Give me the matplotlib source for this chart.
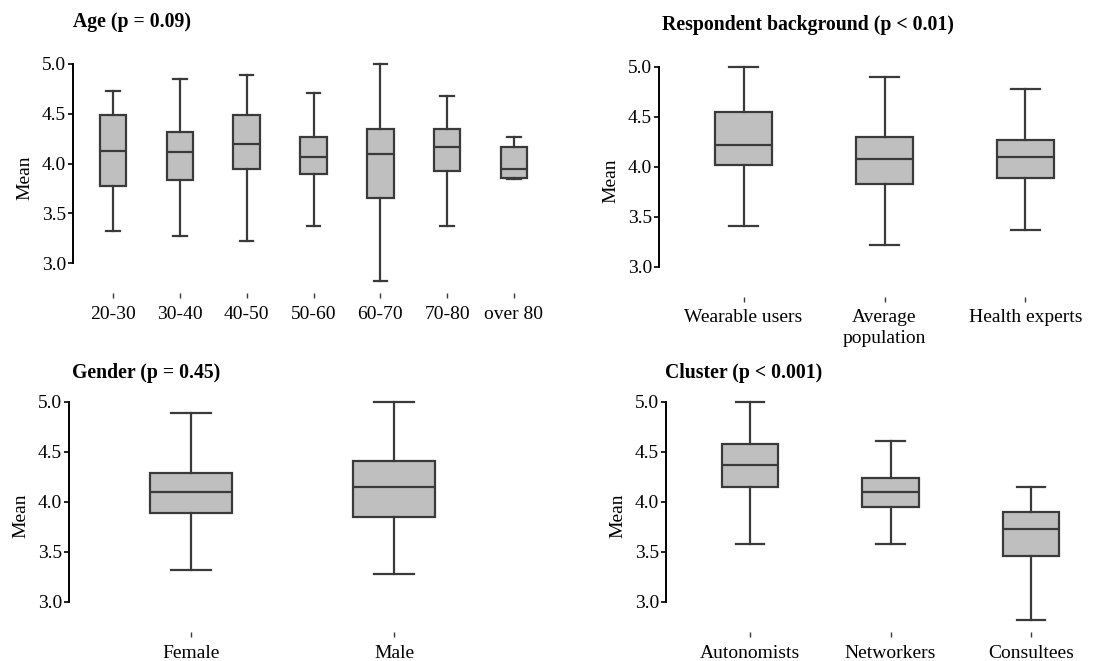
import matplotlib.pyplot as plt

plt.rcParams['font.family'] = ['Liberation Serif', 'DejaVu Serif']

# Age
age_labels = ['20-30', '30-40', '40-50', '50-60', '60-70', '70-80', 'over 80']
age_lo = [3.32, 3.27, 3.22, 3.37, 2.82, 3.37, 3.84]
age_q1 = [3.77, 3.83, 3.95, 3.90, 3.65, 3.93, 3.85]
age_med = [4.13, 4.12, 4.20, 4.07, 4.10, 4.17, 3.95]
age_q3 = [4.49, 4.32, 4.49, 4.27, 4.35, 4.35, 4.17]
age_hi = [4.73, 4.85, 4.89, 4.71, 5.00, 4.68, 4.27]

# Respondent background
bg_labels = ['Wearable users', 'Average\npopulation', 'Health experts']
bg_lo = [3.41, 3.22, 3.37]
bg_q1 = [4.02, 3.83, 3.89]
bg_med = [4.22, 4.08, 4.10]
bg_q3 = [4.55, 4.30, 4.27]
bg_hi = [5.00, 4.90, 4.78]

# Gender
gen_labels = ['Female', 'Male']
gen_lo = [3.32, 3.28]
gen_q1 = [3.89, 3.85]
gen_med = [4.10, 4.15]
gen_q3 = [4.29, 4.41]
gen_hi = [4.89, 5.00]

# Cluster
cl_labels = ['Autonomists', 'Networkers', 'Consultees']
cl_lo = [3.58, 3.58, 2.82]
cl_q1 = [4.15, 3.95, 3.46]
cl_med = [4.37, 4.10, 3.73]
cl_q3 = [4.58, 4.24, 3.90]
cl_hi = [5.00, 4.61, 4.15]

W, H = 1117, 661
edge = '#3a3a3a'
fig = plt.figure(figsize=(W / 100, H / 100), dpi=100)


def panel(px_left, px_right, px_top, px_bottom, labels, lo, q1, med, q3, hi, title, tx, ty):
    ax = fig.add_axes([px_left / W, 1 - px_bottom / H, (px_right - px_left) / W, (px_bottom - px_top) / H])
    stats = [dict(label=l, whislo=a, q1=b, med=c, q3=d, whishi=e, fliers=[])
             for l, a, b, c, d, e in zip(labels, lo, q1, med, q3, hi)]
    lw = 1.6
    ax.bxp(stats, positions=range(len(labels)), widths=0.4, capwidths=0.2,
           patch_artist=True, showfliers=False,
           boxprops=dict(facecolor='#bfbfbf', edgecolor=edge, linewidth=lw),
           medianprops=dict(color=edge, linewidth=lw),
           whiskerprops=dict(color=edge, linewidth=lw),
           capprops=dict(color=edge, linewidth=lw))
    n = len(labels)
    ax.set_xlim(-0.6, n - 0.4)
    ax.set_ylim(2.7, 5.02)
    for s in ['top', 'right', 'bottom']:
        ax.spines[s].set_visible(False)
    ax.spines['left'].set_bounds(3, 5)
    ax.spines['left'].set_linewidth(1.4)
    ax.set_yticks([3.0, 3.5, 4.0, 4.5, 5.0])
    ax.set_yticklabels(['3.0', '3.5', '4.0', '4.5', '5.0'])
    ax.tick_params(axis='y', length=3.6, width=1.2, pad=1.5, labelsize=14)
    ax.tick_params(axis='x', length=3.6, width=1, color=edge, pad=5.5, labelsize=14)
    for t in ax.get_xticklabels():
        t.set_linespacing(1.3)
    ax.set_ylabel('Mean', fontsize=14, labelpad=6)
    fig.text(tx / W, 1 - ty / H, title, fontsize=14.2, fontweight='bold', ha='left', va='center')
    return ax


panel(73, 554, 62, 293, age_labels, age_lo, age_q1, age_med, age_q3, age_hi,
      'Age (p = 0.09)', 73, 22)
panel(659, 1110, 64.7, 296.7, bg_labels, bg_lo, bg_q1, bg_med, bg_q3, bg_hi,
      'Respondent background (p < 0.01)', 662, 25)
panel(69, 516, 400, 632, gen_labels, gen_lo, gen_q1, gen_med, gen_q3, gen_hi,
      'Gender (p = 0.45)', 72, 373)
panel(666, 1115, 400, 632, cl_labels, cl_lo, cl_q1, cl_med, cl_q3, cl_hi,
      'Cluster (p < 0.001)', 665, 373)

fig.savefig('out.png', dpi=100)
